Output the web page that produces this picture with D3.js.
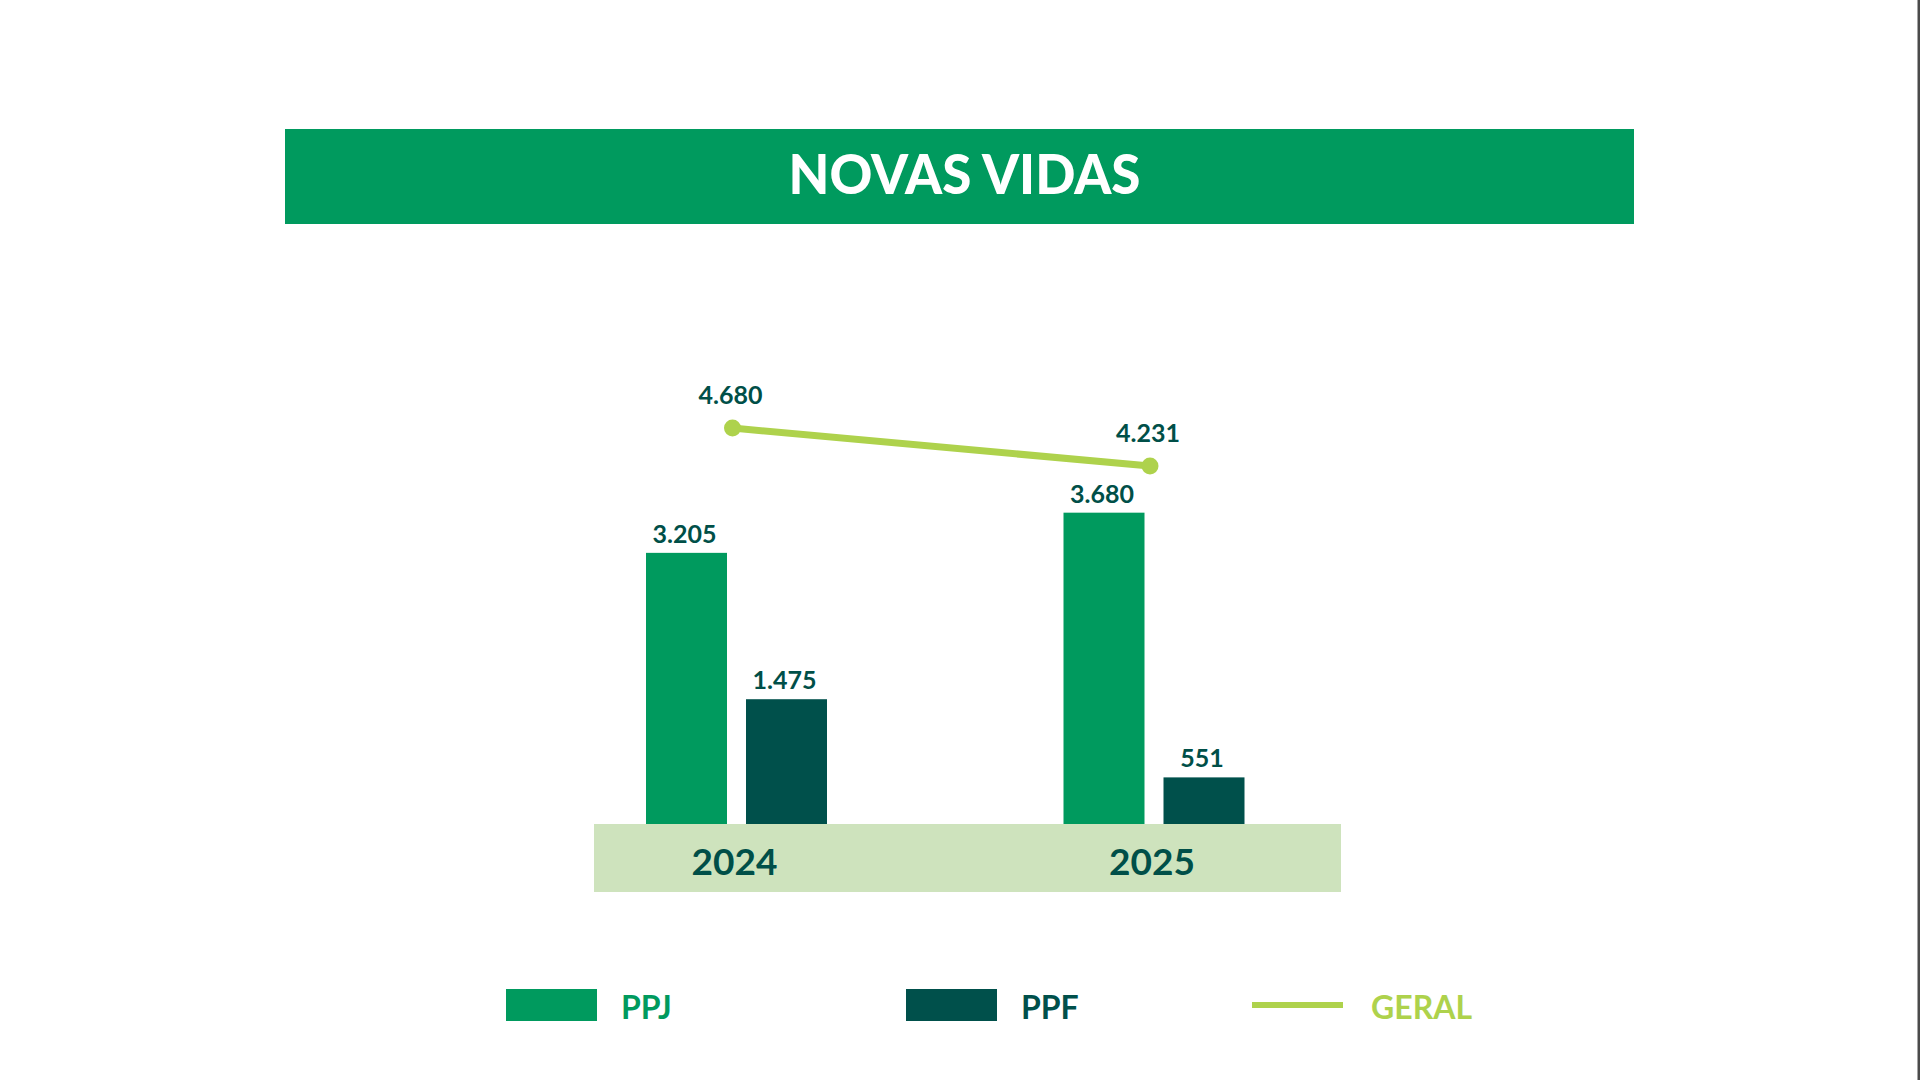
<!DOCTYPE html>
<html>
<head>
<meta charset="utf-8">
<script src="https://cdn.jsdelivr.net/npm/d3@7"></script>
<style>
    body { margin: 0; background: #ffffff; }
    svg { display: block; font-family: Lato, "Open Sans", sans-serif; }
</style>
</head>
<body>
<div id="chart"></div>
<script>
// chart values
const years = ['2024', '2025'];
const ppjValues = [3205, 3680];
const ppfValues = [1475, 551];
const geralValues = [4680, 4231];
const barSeries = ['PPJ', 'PPF'];
const legendLabels = ['PPJ', 'PPF', 'GERAL'];
const chartTitle = 'NOVAS VIDAS';

const colors = {PPJ: '#009a5e', PPF: '#00504b', GERAL: '#aed24c'};
const labelColor = '#004f48';
const bandColor = '#cee3bd';

// numbers in pt-BR style, e.g. 4.680
const ptBR = d3.formatLocale({decimal: ',', thousands: '.', grouping: [3], currency: ['R$', '']});
const fmt = ptBR.format(',d');

const W = 1920, H = 1080;
const baseY = 824;

let svg = d3.select('#chart').append('svg')
    .attr('width', W)
    .attr('height', H);

svg.append('rect').attr('width', W).attr('height', H).attr('fill', '#ffffff');

// thin border line on the right edge
svg.append('rect')
    .attr('x', 1917.5).attr('y', 0)
    .attr('width', 2.5).attr('height', H)
    .attr('fill', '#4a4a4a');

// title bar
svg.append('rect')
    .attr('x', 285).attr('y', 129)
    .attr('width', 1349).attr('height', 95)
    .attr('fill', colors.PPJ);

svg.append('text')
    .attr('x', 964.5).attr('y', 194)
    .attr('text-anchor', 'middle')
    .attr('fill', '#ffffff')
    .style('font-size', '55px')
    .style('font-weight', 900)
    .attr('textLength', 352)
    .attr('lengthAdjust', 'spacingAndGlyphs')
    .text(chartTitle);

// scales
let x0 = d3.scalePoint().domain(years).range([736.5, 1154]);
let x1 = d3.scaleBand().domain(barSeries).range([-90.5, 90.5]).paddingInner(0.19);
let y = d3.scaleLinear().domain([0, 5000]).range([baseY, 401]);

// light band holding the year labels
svg.append('rect')
    .attr('x', 594).attr('y', baseY)
    .attr('width', 747).attr('height', 68)
    .attr('fill', bandColor);

svg.selectAll('.year')
    .data(years)
    .enter().append('text')
    .attr('class', 'year')
    .attr('x', d => x0(d) - 2)
    .attr('y', 875)
    .attr('text-anchor', 'middle')
    .attr('fill', labelColor)
    .style('font-size', '37px')
    .style('font-weight', 700)
    .text(d => d);

// bars
let barData = [];
years.forEach((yr, i) => {
    barData.push({year: yr, series: 'PPJ', value: ppjValues[i]});
    barData.push({year: yr, series: 'PPF', value: ppfValues[i]});
});

svg.selectAll('.bar')
    .data(barData)
    .enter().append('rect')
    .attr('class', 'bar')
    .attr('x', d => x0(d.year) + x1(d.series))
    .attr('y', d => y(d.value))
    .attr('width', x1.bandwidth())
    .attr('height', d => baseY - y(d.value))
    .attr('fill', d => colors[d.series]);

svg.selectAll('.bar-label')
    .data(barData)
    .enter().append('text')
    .attr('class', 'bar-label')
    .attr('x', d => x0(d.year) + x1(d.series) + x1.bandwidth() / 2 - 2)
    .attr('y', d => y(d.value) - 10)
    .attr('text-anchor', 'middle')
    .attr('fill', labelColor)
    .style('font-size', '25px')
    .style('font-weight', 700)
    .text(d => fmt(d.value));

// total line
let lineData = years.map((yr, i) => ({year: yr, value: geralValues[i]}));
let lineGen = d3.line()
    .x(d => x0(d.year) - 4)
    .y(d => y(d.value));

svg.append('path')
    .datum(lineData)
    .attr('d', lineGen)
    .attr('fill', 'none')
    .attr('stroke', colors.GERAL)
    .attr('stroke-width', 7);

svg.selectAll('.dot')
    .data(lineData)
    .enter().append('circle')
    .attr('class', 'dot')
    .attr('cx', d => x0(d.year) - 4)
    .attr('cy', d => y(d.value))
    .attr('r', 8.5)
    .attr('fill', colors.GERAL);

svg.selectAll('.line-label')
    .data(lineData)
    .enter().append('text')
    .attr('class', 'line-label')
    .attr('x', d => x0(d.year) - 6)
    .attr('y', d => y(d.value) - 24)
    .attr('text-anchor', 'middle')
    .attr('fill', labelColor)
    .style('font-size', '25px')
    .style('font-weight', 700)
    .text(d => fmt(d.value));

// legend
let legendX = [506, 906, 1252];
let legend = svg.selectAll('.legend')
    .data(legendLabels)
    .enter().append('g')
    .attr('class', 'legend')
    .attr('transform', (d, i) => `translate(${legendX[i]}, 989)`);

legend.each(function(d) {
    let g = d3.select(this);
    if (d === 'GERAL') {
        g.append('rect')
            .attr('x', 0).attr('y', 13)
            .attr('width', 91).attr('height', 6)
            .attr('fill', colors[d]);
    } else {
        g.append('rect')
            .attr('width', 91).attr('height', 32)
            .attr('fill', colors[d]);
    }
    g.append('text')
        .attr('x', d === 'GERAL' ? 119 : 115)
        .attr('y', 30)
        .attr('fill', colors[d])
        .style('font-size', '32px')
        .style('font-weight', 700)
        .text(d);
});
</script>
</body>
</html>
